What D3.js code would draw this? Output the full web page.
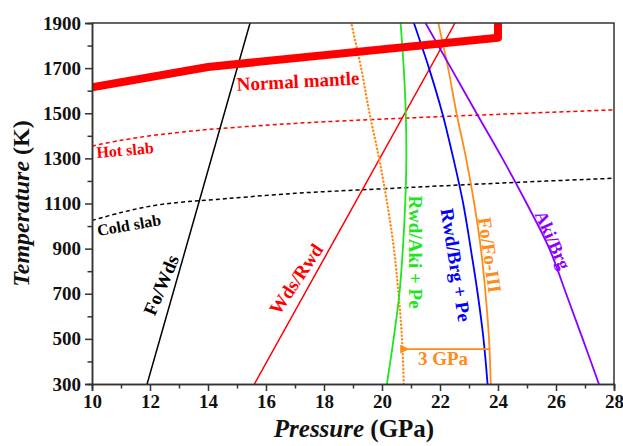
<!DOCTYPE html>
<html>
<head>
<meta charset="utf-8">
<script src="https://cdn.jsdelivr.net/npm/d3@7"></script>
<style>
  body { margin: 0; background: #fff; }
  text { font-family: "Liberation Serif", "Times New Roman", serif; font-weight: bold; }
</style>
</head>
<body>
<div id="chart"></div>
<script>
// pressure (GPa), temperature (K)
const normalMantle = [[10, 1615], [14, 1705], [24, 1835], [24, 1920]];
const hotSlab = [[10, 1355], [11, 1380], [12, 1400], [13, 1415], [14, 1428], [16, 1447], [18, 1462], [22, 1485], [28, 1515]];
const coldSlab = [[10, 1025], [11, 1060], [12, 1088], [13, 1105], [14, 1115], [17, 1145], [20, 1165], [24, 1190], [28, 1212]];
const foWds = [[11.9, 300], [15.45, 1900]];
const wdsRwd = [[15.6, 300], [22.52, 1900]];
const rwdAki = [[20.17, 300], [20.4, 500], [20.6, 700], [20.72, 900], [20.8, 1100], [20.84, 1300], [20.82, 1500], [20.75, 1700], [20.64, 1900]];
const rwdBrg = [[23.64, 300], [23.5, 500], [23.3, 700], [23.06, 900], [22.8, 1100], [22.46, 1300], [22.08, 1500], [21.62, 1700], [21.1, 1900]];
const foFoIII = [[23.75, 300], [23.69, 500], [23.57, 700], [23.41, 900], [23.18, 1100], [22.9, 1300], [22.57, 1500], [22.28, 1700], [21.94, 1900]];
const foFoIIIShift = [[20.75, 300], [20.69, 500], [20.57, 700], [20.41, 900], [20.18, 1100], [19.9, 1300], [19.57, 1500], [19.28, 1700], [18.94, 1900]];
const akiBrg = [[27.48, 300], [26.92, 500], [26.35, 700], [25.77, 900], [24.99, 1100], [24.15, 1300], [23.26, 1500], [22.38, 1700], [21.5, 1900]];
const arrowPressure = [23.7, 20.7];
const arrowTemp = 455;

const xTicks = [10, 12, 14, 16, 18, 20, 22, 24, 26, 28];
const yTicks = [300, 500, 700, 900, 1100, 1300, 1500, 1700, 1900];

const svgWidth = 623;
const svgHeight = 446;
const margin = { top: 23, right: 9, bottom: 62, left: 92 };
const width = svgWidth - margin.left - margin.right;
const height = svgHeight - margin.top - margin.bottom;

const svg = d3.select("#chart")
  .append("svg")
  .attr("width", svgWidth)
  .attr("height", svgHeight);

const g = svg.append("g")
  .attr("transform", "translate(" + margin.left + "," + margin.top + ")");

const xScale = d3.scaleLinear().domain([10, 28]).range([0, width]);
const yScale = d3.scaleLinear().domain([300, 1900]).range([height, 0]);

svg.append("defs").append("clipPath")
  .attr("id", "clip")
  .append("rect")
  .attr("width", width)
  .attr("height", height);

svg.select("defs").append("marker")
  .attr("id", "arrow")
  .attr("viewBox", "0 0 10 10")
  .attr("refX", 1)
  .attr("refY", 5)
  .attr("markerWidth", 5)
  .attr("markerHeight", 5)
  .attr("orient", "auto")
  .append("path")
  .attr("d", "M10,0 L0,5 L10,10 z")
  .attr("fill", "#ff8c1a");

const plot = g.append("g").attr("clip-path", "url(#clip)");

const curved = d3.line()
  .x(function(d) { return xScale(d[0]); })
  .y(function(d) { return yScale(d[1]); })
  .curve(d3.curveCatmullRom);

const straight = d3.line()
  .x(function(d) { return xScale(d[0]); })
  .y(function(d) { return yScale(d[1]); });

function draw(data, gen, color, w, dash, cap) {
  plot.append("path")
    .datum(data)
    .attr("d", gen)
    .attr("fill", "none")
    .attr("stroke", color)
    .attr("stroke-width", w)
    .attr("stroke-linejoin", "round")
    .attr("stroke-linecap", cap || "butt")
    .attr("stroke-dasharray", dash || null);
}

draw(hotSlab, curved, "#ff0000", 1.5, "4,3");
draw(coldSlab, curved, "#000000", 1.5, "4,3");
draw(foWds, straight, "#000000", 1.5);
draw(wdsRwd, straight, "#ff0000", 1.5);
draw(foFoIIIShift, curved, "#ff8c1a", 2.3, "0.4,3.3", "round");
draw(rwdAki, curved, "#1ee61e", 1.8);
draw(rwdBrg, curved, "#0000ff", 1.8);
draw(foFoIII, curved, "#ff8c1a", 1.8);
draw(akiBrg, curved, "#8c00ff", 1.8);
draw(normalMantle, straight, "#ff0000", 8);

// 3 GPa arrow
g.append("line")
  .attr("x1", xScale(arrowPressure[0]))
  .attr("x2", xScale(arrowPressure[1]) + 6)
  .attr("y1", yScale(arrowTemp))
  .attr("y2", yScale(arrowTemp))
  .attr("stroke", "#ff8c1a")
  .attr("stroke-width", 1.8)
  .attr("marker-end", "url(#arrow)");

// axes
const xAxis = d3.axisBottom(xScale).tickValues(xTicks).tickSize(7).tickPadding(4).tickFormat(d3.format("d"));
const yAxis = d3.axisLeft(yScale).tickValues(yTicks).tickSize(7).tickPadding(4).tickFormat(d3.format("d"));

const xMinor = d3.axisBottom(xScale).tickValues(d3.range(11, 28, 2)).tickSize(4.5).tickFormat("");
const yMinor = d3.axisLeft(yScale).tickValues(d3.range(400, 1900, 200)).tickSize(4.5).tickFormat("");

function styleAxis(sel) {
  sel.selectAll("path, line").attr("stroke", "#333").attr("stroke-width", 1.5);
  sel.selectAll("text").attr("fill", "#111").style("font-size", "19px").style("font-weight", "bold");
}

g.append("g").attr("transform", "translate(0," + height + ")").call(xMinor).call(styleAxis);
g.append("g").call(yMinor).call(styleAxis);
g.append("g").attr("transform", "translate(0," + height + ")").call(xAxis).call(styleAxis);
g.append("g").call(yAxis).call(styleAxis);

// frame top and right
g.append("path")
  .attr("d", "M0,0 H" + width + " V" + height)
  .attr("fill", "none")
  .attr("stroke", "#333")
  .attr("stroke-width", 1.5);

// axis titles
const xTitle = svg.append("text")
  .attr("x", 354)
  .attr("y", 437)
  .attr("text-anchor", "middle")
  .style("font-size", "25px")
  .attr("fill", "#111");
xTitle.append("tspan").style("font-style", "italic").text("Pressure");
xTitle.append("tspan").text(" (GPa)");

const yTitle = svg.append("text")
  .attr("transform", "translate(29," + (margin.top + height / 2) + ") rotate(-90)")
  .attr("text-anchor", "middle")
  .style("font-size", "24px")
  .attr("fill", "#111");
yTitle.append("tspan").style("font-style", "italic").text("Temperature");
yTitle.append("tspan").text(" (K)");

// curve labels
const labels = [
  { text: "Normal mantle", x: 298, y: 81, angle: -3, color: "#ff0000", size: 19 },
  { text: "Hot slab", x: 125, y: 150, angle: -5, color: "#ff0000", size: 16 },
  { text: "Cold slab", x: 129, y: 225, angle: -10, color: "#000000", size: 16 },
  { text: "Fo/Wds", x: 161, y: 285, angle: -67, color: "#000000", size: 19 },
  { text: "Wds/Rwd", x: 296, y: 279, angle: -56, color: "#ff0000", size: 19 },
  { text: "Rwd/Aki + Pe", x: 416, y: 252, angle: 90, color: "#1ee61e", size: 19 },
  { text: "Rwd/Brg + Pe", x: 456, y: 265, angle: 81, color: "#0000ff", size: 19 },
  { text: "Fo/Fo-III", x: 490, y: 255, angle: 82, color: "#ff8c1a", size: 19 },
  { text: "Aki/Brg", x: 553, y: 240, angle: 66, color: "#8c00ff", size: 18 },
  { text: "3 GPa", x: 443, y: 358, angle: 0, color: "#ff8c1a", size: 19 }
];

svg.selectAll("text.curve-label")
  .data(labels)
  .enter()
  .append("text")
  .attr("class", "curve-label")
  .attr("transform", function(d) { return "translate(" + d.x + "," + d.y + ") rotate(" + d.angle + ")"; })
  .attr("text-anchor", "middle")
  .attr("dy", "0.35em")
  .attr("fill", function(d) { return d.color; })
  .style("font-size", function(d) { return d.size + "px"; })
  .text(function(d) { return d.text; });
</script>
</body>
</html>
